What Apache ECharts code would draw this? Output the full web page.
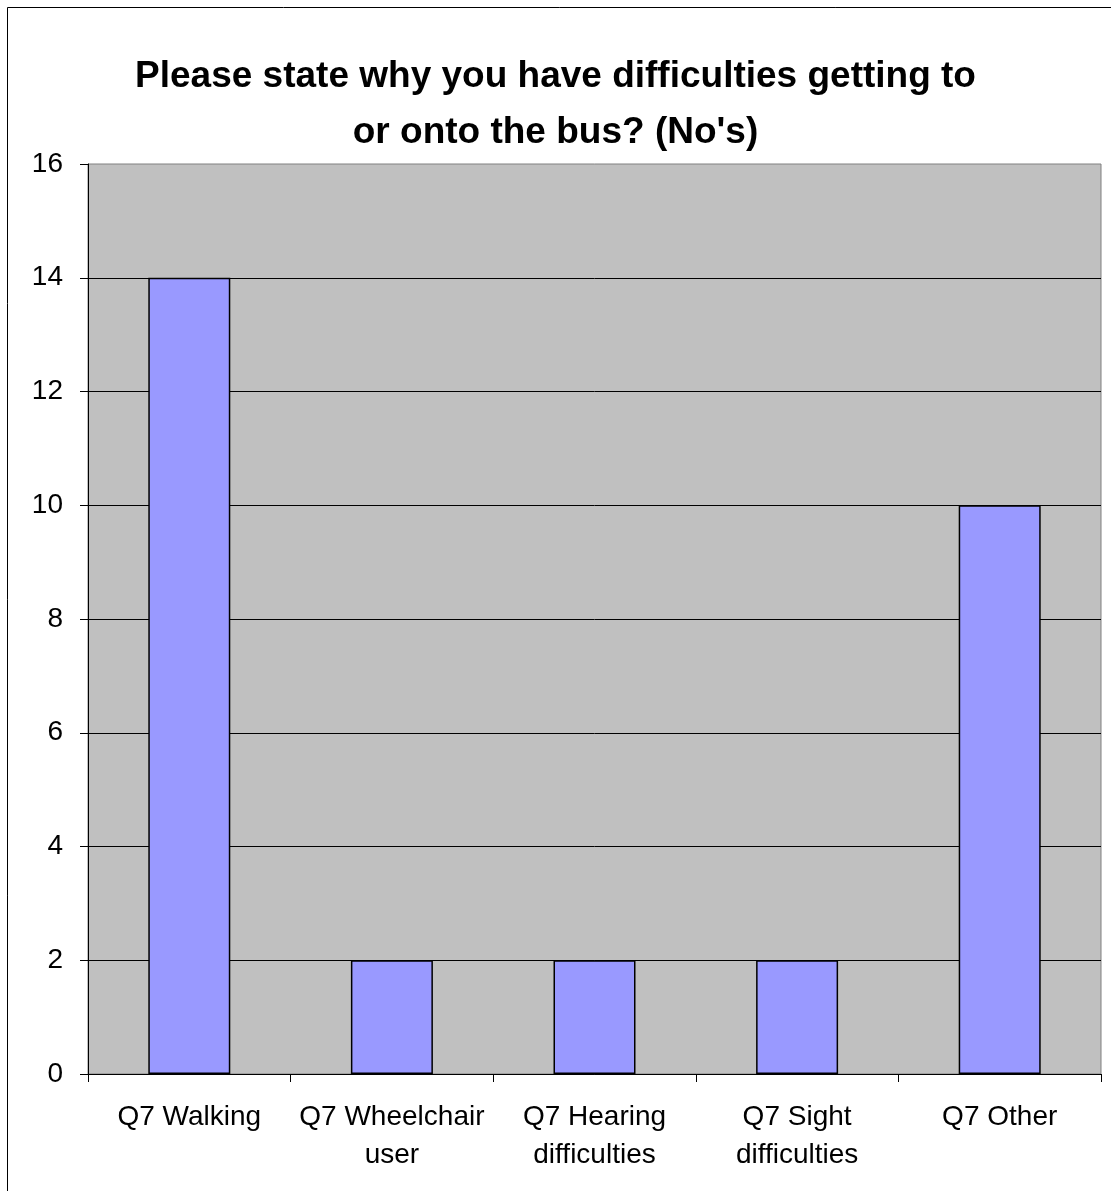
<!DOCTYPE html>
<html><head><meta charset="utf-8">
<script src="https://cdn.jsdelivr.net/npm/echarts@6/dist/echarts.min.js"></script>
<style>html,body{margin:0;padding:0;background:#fff}#c{width:1111px;height:1191px}</style>
</head><body><div id="c"></div>
<script>
const titleText = "Please state why you have difficulties getting to\nor onto the bus? (No's)";
const categories = ["Q7 Walking", "Q7 Wheelchair\nuser", "Q7 Hearing\ndifficulties", "Q7 Sight\ndifficulties", "Q7 Other"];
const values = [14, 2, 2, 2, 10];
const yMin = 0, yMax = 16, yStep = 2;

const chart = echarts.init(document.getElementById('c'), null, {renderer: 'canvas'});
const font = 'Arial, "Liberation Sans", sans-serif';
chart.setOption({
  animation: false,
  backgroundColor: '#ffffff',
  graphic: [{type: 'rect', shape: {x: 7.5, y: 7.5, width: 1110, height: 1190}, style: {fill: 'none', stroke: '#000', lineWidth: 1}}],
  title: {
    text: titleText, left: 'center', top: 44,
    textStyle: {fontFamily: font, fontSize: 37, fontWeight: 'bold', color: '#000', lineHeight: 56}
  },
  grid: {left: 88, top: 164, right: 10, bottom: 117, show: true, backgroundColor: '#C0C0C0', borderColor: '#808080', borderWidth: 1},
  xAxis: {
    type: 'category', data: categories,
    axisLine: {lineStyle: {color: '#000', width: 1}},
    axisTick: {show: true, length: 8, lineStyle: {color: '#000'}},
    axisLabel: {fontFamily: font, fontSize: 28, color: '#000', margin: 24, lineHeight: 38, interval: 0}
  },
  yAxis: {
    type: 'value', min: yMin, max: yMax, interval: yStep,
    axisLine: {show: true, lineStyle: {color: '#000', width: 1}},
    axisTick: {show: true, length: 8, lineStyle: {color: '#000'}},
    axisLabel: {fontFamily: font, fontSize: 28, color: '#000', margin: 25},
    splitLine: {show: true, showMaxLine: false, lineStyle: {color: '#000', width: 1}}
  },
  series: [{
    type: 'bar', data: values, barWidth: 82,
    itemStyle: {color: '#9999FF', borderColor: '#000', borderWidth: 1.5}
  }]
});
</script></body></html>
